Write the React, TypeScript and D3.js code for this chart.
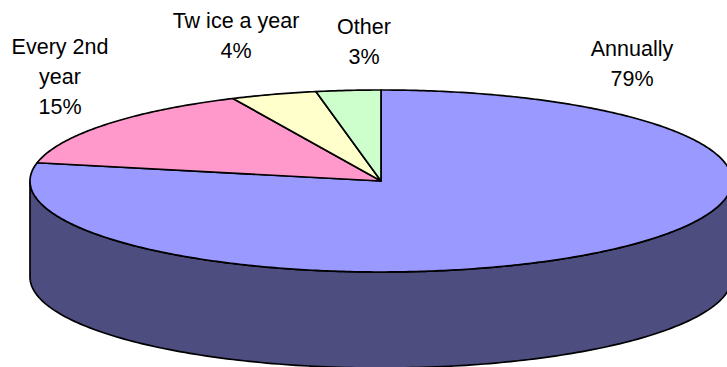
import React from "react";
import * as d3 from "d3";

const categories = ["Annually", "Every 2nd year", "Twice a year", "Other"];
const shares = [79, 15, 4, 3];
const colours = ["#9999FF", "#FF99CC", "#FFFFCC", "#CCFFCC"];
const wallColour = "#4D4D80";
const labelLines = [
  ["Annually", "79%"],
  ["Every 2nd", "year", "15%"],
  ["Tw ice a year", "4%"],
  ["Other", "3%"],
];
const labelAnchors = [
  { x: 632, y: 48 },
  { x: 60, y: 46 },
  { x: 236, y: 20 },
  { x: 364, y: 26 },
];

const WIDTH = 727;
const HEIGHT = 367;
const CX = 381;
const CY = 181;
const RX = 351;
const RY = 91;
const DEPTH = 96;
const LINE_HEIGHT = 30;

// Maps a clockwise-from-top pie angle onto the tilted ellipse of the pie's top face.
const px = d3.scaleLinear().domain([-1, 1]).range([CX - RX, CX + RX]);
const py = d3.scaleLinear().domain([-1, 1]).range([CY - RY, CY + RY]);
const onRim = (a: number, drop = 0): [number, number] => [px(Math.sin(a)), py(-Math.cos(a)) + drop];

const pieLayout = d3.pie<number>().sort(null).startAngle(0).endAngle(2 * Math.PI);
const slices = pieLayout(shares);

const line = d3.line();

function slicePath(start: number, end: number): string {
  const steps = Math.max(2, Math.ceil((end - start) * 90));
  const rim = d3.range(steps + 1).map((i) => onRim(start + ((end - start) * i) / steps));
  return line([[CX, CY], ...rim])! + "Z";
}

// Visible outer wall: the front half of the rim, swept downward by the pie's depth.
function wallPath(): string {
  const steps = 180;
  const angles = d3.range(steps + 1).map((i) => Math.PI / 2 + (Math.PI * i) / steps);
  const upper = angles.map((a) => onRim(a));
  const lower = angles.map((a) => onRim(a, DEPTH)).reverse();
  return line([...upper, ...lower])! + "Z";
}

export default function App() {
  return (
    <svg
      width={WIDTH}
      height={HEIGHT}
      viewBox={`0 0 ${WIDTH} ${HEIGHT}`}
      style={{ position: "absolute", left: 0, top: 0, background: "#fff" }}
      fontFamily="'Liberation Sans', Arial, sans-serif"
    >
      <path d={wallPath()} fill={wallColour} stroke="#000" strokeWidth={1.7} strokeLinejoin="round" />
      {slices.map((s, i) => (
        <path
          key={categories[i]}
          d={slicePath(s.startAngle, s.endAngle)}
          fill={colours[i]}
          stroke="#000"
          strokeWidth={1.7}
          strokeLinejoin="round"
        />
      ))}
      {labelLines.map((lines, i) => (
        <text key={categories[i]} textAnchor="middle" fontSize={21.5} fill="#000">
          {lines.map((t, j) => (
            <tspan key={j} x={labelAnchors[i].x} y={labelAnchors[i].y + j * LINE_HEIGHT + 7.5}>
              {t}
            </tspan>
          ))}
        </text>
      ))}
    </svg>
  );
}
